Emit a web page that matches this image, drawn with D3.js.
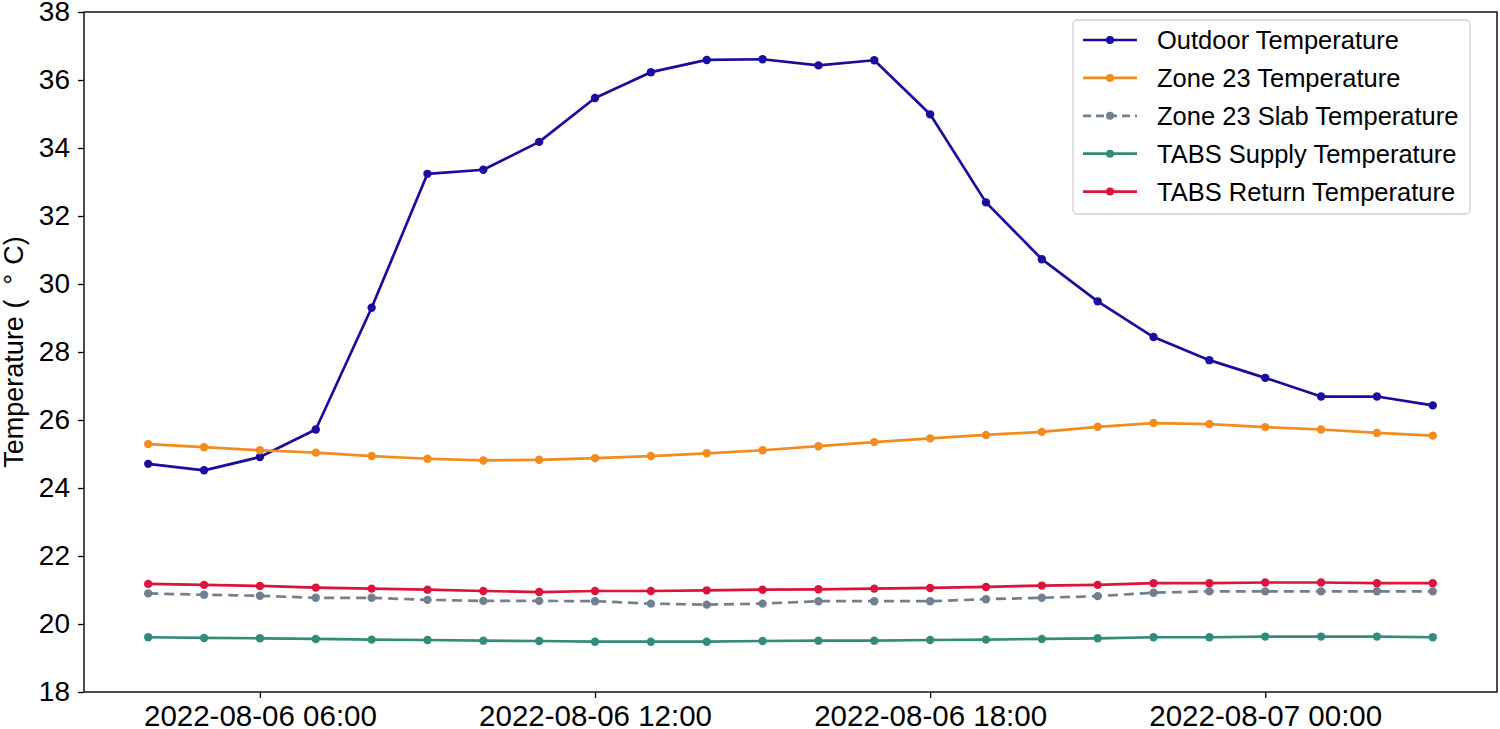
<!DOCTYPE html>
<html>
<head>
<meta charset="utf-8">
<script src="https://cdn.jsdelivr.net/npm/d3@7"></script>
<style>
  html, body { margin: 0; padding: 0; background: #fff; }
  svg { display: block; font-family: "Liberation Sans", Arial, Helvetica, sans-serif; }
</style>
</head>
<body>
<svg id="chart" width="1500" height="729"></svg>
<script>
// ---- data ----
const times = [
  "2022-08-06 04:00","2022-08-06 05:00","2022-08-06 06:00","2022-08-06 07:00",
  "2022-08-06 08:00","2022-08-06 09:00","2022-08-06 10:00","2022-08-06 11:00",
  "2022-08-06 12:00","2022-08-06 13:00","2022-08-06 14:00","2022-08-06 15:00",
  "2022-08-06 16:00","2022-08-06 17:00","2022-08-06 18:00","2022-08-06 19:00",
  "2022-08-06 20:00","2022-08-06 21:00","2022-08-06 22:00","2022-08-06 23:00",
  "2022-08-07 00:00","2022-08-07 01:00","2022-08-07 02:00","2022-08-07 03:00"
];
const outdoorTemp = [24.71, 24.52, 24.91, 25.72, 29.30, 33.24, 33.36, 34.18,
  35.47, 36.23, 36.59, 36.61, 36.43, 36.58, 34.99, 32.40,
  30.73, 29.49, 28.44, 27.76, 27.24, 26.69, 26.69, 26.43];
const zoneTemp = [25.29, 25.20, 25.11, 25.04, 24.94, 24.86, 24.81, 24.83,
  24.88, 24.94, 25.02, 25.11, 25.23, 25.35, 25.46, 25.56,
  25.65, 25.80, 25.91, 25.88, 25.79, 25.72, 25.62, 25.54];
const slabTemp = [20.90, 20.86, 20.83, 20.77, 20.77, 20.71, 20.68, 20.68,
  20.67, 20.60, 20.57, 20.60, 20.67, 20.67, 20.67, 20.73,
  20.77, 20.82, 20.92, 20.96, 20.96, 20.96, 20.96, 20.96];
const supplyTemp = [19.61, 19.59, 19.58, 19.56, 19.54, 19.53, 19.51, 19.50,
  19.48, 19.48, 19.48, 19.50, 19.51, 19.51, 19.53, 19.54,
  19.56, 19.58, 19.61, 19.61, 19.63, 19.63, 19.63, 19.61];
const returnTemp = [21.18, 21.15, 21.12, 21.07, 21.04, 21.01, 20.97, 20.94,
  20.97, 20.97, 20.99, 21.01, 21.02, 21.04, 21.06, 21.09,
  21.13, 21.15, 21.20, 21.20, 21.22, 21.22, 21.20, 21.20];
const seriesNames = ["Outdoor Temperature", "Zone 23 Temperature", "Zone 23 Slab Temperature",
  "TABS Supply Temperature", "TABS Return Temperature"];
const yTicks = [18, 20, 22, 24, 26, 28, 30, 32, 34, 36, 38];
const xTickLabels = ["2022-08-06 06:00", "2022-08-06 12:00", "2022-08-06 18:00", "2022-08-07 00:00"];
const yLabel = "Temperature";

// ---- styling (not data) ----
const styles = [
  { color: "#1a0ca0", dash: null },
  { color: "#f28c1f", dash: null },
  { color: "#708090", dash: "10,6" },
  { color: "#338c7a", dash: null },
  { color: "#dc143c", dash: null }
];

const parse = d3.timeParse("%Y-%m-%d %H:%M");
const fmt = d3.timeFormat("%Y-%m-%d %H:%M");
const dates = times.map(parse);
const allValues = [outdoorTemp, zoneTemp, slabTemp, supplyTemp, returnTemp];
const series = seriesNames.map((name, i) => ({
  name, style: styles[i],
  points: dates.map((d, j) => ({ d, v: allValues[i][j] }))
}));

const M = { left: 84, right: 1497, top: 12, bottom: 692 };
const svg = d3.select("#chart");

// matplotlib-like 5% margins on time axis
const t0 = dates[0], t1 = dates[dates.length - 1];
const span = t1 - t0;
const x = d3.scaleTime()
  .domain([new Date(+t0 - 0.05 * span), new Date(+t1 + 0.05 * span)])
  .range([M.left, M.right]);
const y = d3.scaleLinear().domain([18, 38]).range([M.bottom, M.top]);

// axes
const xAxis = d3.axisBottom(x)
  .tickValues(xTickLabels.map(parse))
  .tickFormat(fmt)
  .tickSizeInner(6).tickSizeOuter(0).tickPadding(7);
const gx = svg.append("g").attr("transform", `translate(0,${M.bottom})`).call(xAxis);
gx.select(".domain").remove();
gx.selectAll("line").attr("stroke", "#000").attr("stroke-width", 1.3);
gx.selectAll("text").attr("font-size", 29.5).attr("fill", "#000")
  .attr("font-family", '"Liberation Sans", Arial, sans-serif');

const yAxis = d3.axisLeft(y).tickValues(yTicks).tickFormat(d3.format("d"))
  .tickSizeInner(6).tickSizeOuter(0).tickPadding(8);
const gy = svg.append("g").attr("transform", `translate(${M.left},0)`).call(yAxis);
gy.select(".domain").remove();
gy.selectAll("line").attr("stroke", "#000").attr("stroke-width", 1.3);
gy.selectAll("text").attr("font-size", 28).attr("fill", "#000")
  .attr("font-family", '"Liberation Sans", Arial, sans-serif');

// y label
const yl = svg.append("text")
  .attr("transform", `translate(23,${(M.top + M.bottom) / 2}) rotate(-90)`)
  .attr("text-anchor", "middle")
  .attr("font-size", 27)
  .attr("fill", "#000");
yl.append("tspan").text(yLabel + " (");
yl.append("tspan").attr("dx", 15).text("\u00B0");
yl.append("tspan").attr("dx", 9).text("C)");

// lines
const line = d3.line().x(p => x(p.d)).y(p => y(p.v));
const gSeries = svg.append("g");
series.forEach(s => {
  const g = gSeries.append("g");
  g.append("path").datum(s.points)
    .attr("d", line)
    .attr("fill", "none")
    .attr("stroke", s.style.color)
    .attr("stroke-width", 2.7)
    .attr("stroke-linejoin", "round")
    .attr("stroke-dasharray", s.style.dash);
  g.selectAll("circle").data(s.points).join("circle")
    .attr("cx", p => x(p.d)).attr("cy", p => y(p.v))
    .attr("r", 4.2).attr("fill", s.style.color);
});

// frame
svg.append("rect")
  .attr("x", M.left).attr("y", M.top)
  .attr("width", M.right - M.left).attr("height", M.bottom - M.top)
  .attr("fill", "none").attr("stroke", "#000").attr("stroke-width", 1.4);

// legend
const lg = svg.append("g");
lg.append("rect")
  .attr("x", 1073).attr("y", 20).attr("width", 397).attr("height", 194)
  .attr("rx", 4).attr("ry", 4)
  .attr("fill", "#fff").attr("fill-opacity", 0.8)
  .attr("stroke", "#d0d0d0").attr("stroke-width", 1.3);
series.forEach((s, i) => {
  const cy = 40 + i * 37.9;
  lg.append("line")
    .attr("x1", 1083).attr("x2", 1137).attr("y1", cy).attr("y2", cy)
    .attr("stroke", s.style.color).attr("stroke-width", 2.7)
    .attr("stroke-dasharray", s.style.dash ? "8,5" : null);
  lg.append("circle").attr("cx", 1110).attr("cy", cy).attr("r", 4).attr("fill", s.style.color);
  lg.append("text")
    .attr("x", 1157).attr("y", cy).attr("dy", "0.35em")
    .attr("font-size", 25.5).attr("fill", "#000")
    .text(s.name);
});
</script>
</body>
</html>
